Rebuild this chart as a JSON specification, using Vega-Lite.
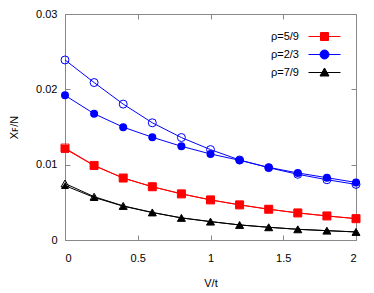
{
  "$schema": "https://vega.github.io/schema/vega-lite/v6.json",
  "autosize": "none",
  "width": 291,
  "height": 226,
  "padding": {"left": 65, "top": 14, "right": 18, "bottom": 53},
  "config": {
    "font": "Liberation Sans",
    "view": {"stroke": "#888888", "strokeWidth": 1},
    "axis": {"labelFont": "Liberation Sans", "titleFont": "Liberation Sans", "labelFontSize": 11, "titleFontSize": 11, "titleFontWeight": "normal", "labelColor": "#000", "titleColor": "#000", "grid": false, "domain": false, "tickColor": "#888888", "tickSize": -5}
  },
  "data": {"values": [
    {"rho": "ρ=5/9", "kind": "filled", "V": 0.0, "x": 0.0121},
    {"rho": "ρ=5/9", "kind": "filled", "V": 0.2, "x": 0.00987},
    {"rho": "ρ=5/9", "kind": "filled", "V": 0.4, "x": 0.00822},
    {"rho": "ρ=5/9", "kind": "filled", "V": 0.6, "x": 0.00707},
    {"rho": "ρ=5/9", "kind": "filled", "V": 0.8, "x": 0.00613},
    {"rho": "ρ=5/9", "kind": "filled", "V": 1.0, "x": 0.00533},
    {"rho": "ρ=5/9", "kind": "filled", "V": 1.2, "x": 0.00467},
    {"rho": "ρ=5/9", "kind": "filled", "V": 1.4, "x": 0.00409},
    {"rho": "ρ=5/9", "kind": "filled", "V": 1.6, "x": 0.0036},
    {"rho": "ρ=5/9", "kind": "filled", "V": 1.8, "x": 0.0032},
    {"rho": "ρ=5/9", "kind": "filled", "V": 2.0, "x": 0.00284},
    {"rho": "ρ=5/9", "kind": "open", "V": 0.0, "x": 0.0122},
    {"rho": "ρ=5/9", "kind": "open", "V": 0.2, "x": 0.0099},
    {"rho": "ρ=5/9", "kind": "open", "V": 0.4, "x": 0.00823},
    {"rho": "ρ=5/9", "kind": "open", "V": 0.6, "x": 0.00707},
    {"rho": "ρ=5/9", "kind": "open", "V": 0.8, "x": 0.00612},
    {"rho": "ρ=5/9", "kind": "open", "V": 1.0, "x": 0.00532},
    {"rho": "ρ=5/9", "kind": "open", "V": 1.2, "x": 0.00466},
    {"rho": "ρ=5/9", "kind": "open", "V": 1.4, "x": 0.00408},
    {"rho": "ρ=5/9", "kind": "open", "V": 1.6, "x": 0.00359},
    {"rho": "ρ=5/9", "kind": "open", "V": 1.8, "x": 0.00319},
    {"rho": "ρ=5/9", "kind": "open", "V": 2.0, "x": 0.00283},
    {"rho": "ρ=2/3", "kind": "filled", "V": 0.0, "x": 0.0192},
    {"rho": "ρ=2/3", "kind": "filled", "V": 0.2, "x": 0.01676},
    {"rho": "ρ=2/3", "kind": "filled", "V": 0.4, "x": 0.01498},
    {"rho": "ρ=2/3", "kind": "filled", "V": 0.6, "x": 0.01364},
    {"rho": "ρ=2/3", "kind": "filled", "V": 0.8, "x": 0.01244},
    {"rho": "ρ=2/3", "kind": "filled", "V": 1.0, "x": 0.01142},
    {"rho": "ρ=2/3", "kind": "filled", "V": 1.2, "x": 0.01058},
    {"rho": "ρ=2/3", "kind": "filled", "V": 1.4, "x": 0.00964},
    {"rho": "ρ=2/3", "kind": "filled", "V": 1.6, "x": 0.0089},
    {"rho": "ρ=2/3", "kind": "filled", "V": 1.8, "x": 0.00827},
    {"rho": "ρ=2/3", "kind": "filled", "V": 2.0, "x": 0.00764},
    {"rho": "ρ=2/3", "kind": "open", "V": 0.0, "x": 0.0239},
    {"rho": "ρ=2/3", "kind": "open", "V": 0.2, "x": 0.0209},
    {"rho": "ρ=2/3", "kind": "open", "V": 0.4, "x": 0.01804},
    {"rho": "ρ=2/3", "kind": "open", "V": 0.6, "x": 0.01556},
    {"rho": "ρ=2/3", "kind": "open", "V": 0.8, "x": 0.0136},
    {"rho": "ρ=2/3", "kind": "open", "V": 1.0, "x": 0.012},
    {"rho": "ρ=2/3", "kind": "open", "V": 1.2, "x": 0.01062},
    {"rho": "ρ=2/3", "kind": "open", "V": 1.4, "x": 0.0096},
    {"rho": "ρ=2/3", "kind": "open", "V": 1.6, "x": 0.00872},
    {"rho": "ρ=2/3", "kind": "open", "V": 1.8, "x": 0.008},
    {"rho": "ρ=2/3", "kind": "open", "V": 2.0, "x": 0.00738},
    {"rho": "ρ=7/9", "kind": "filled", "V": 0.0, "x": 0.00722},
    {"rho": "ρ=7/9", "kind": "filled", "V": 0.2, "x": 0.00565},
    {"rho": "ρ=7/9", "kind": "filled", "V": 0.4, "x": 0.00449},
    {"rho": "ρ=7/9", "kind": "filled", "V": 0.6, "x": 0.00364},
    {"rho": "ρ=7/9", "kind": "filled", "V": 0.8, "x": 0.00293},
    {"rho": "ρ=7/9", "kind": "filled", "V": 1.0, "x": 0.00244},
    {"rho": "ρ=7/9", "kind": "filled", "V": 1.2, "x": 0.002},
    {"rho": "ρ=7/9", "kind": "filled", "V": 1.4, "x": 0.00169},
    {"rho": "ρ=7/9", "kind": "filled", "V": 1.6, "x": 0.00142},
    {"rho": "ρ=7/9", "kind": "filled", "V": 1.8, "x": 0.00124},
    {"rho": "ρ=7/9", "kind": "filled", "V": 2.0, "x": 0.00107},
    {"rho": "ρ=7/9", "kind": "open", "V": 0.0, "x": 0.0075},
    {"rho": "ρ=7/9", "kind": "open", "V": 0.2, "x": 0.00575},
    {"rho": "ρ=7/9", "kind": "open", "V": 0.4, "x": 0.00453},
    {"rho": "ρ=7/9", "kind": "open", "V": 0.6, "x": 0.00366},
    {"rho": "ρ=7/9", "kind": "open", "V": 0.8, "x": 0.00294},
    {"rho": "ρ=7/9", "kind": "open", "V": 1.0, "x": 0.00244},
    {"rho": "ρ=7/9", "kind": "open", "V": 1.2, "x": 0.002},
    {"rho": "ρ=7/9", "kind": "open", "V": 1.4, "x": 0.00169},
    {"rho": "ρ=7/9", "kind": "open", "V": 1.6, "x": 0.00142},
    {"rho": "ρ=7/9", "kind": "open", "V": 1.8, "x": 0.00124},
    {"rho": "ρ=7/9", "kind": "open", "V": 2.0, "x": 0.00107}
  ]},
  "encoding": {
    "x": {"field": "V", "type": "quantitative", "scale": {"domain": [0, 2], "nice": false}},
    "y": {"field": "x", "type": "quantitative", "scale": {"domain": [0, 0.03], "nice": false}}
  },
  "layer": [
    {
      "encoding": {
        "x": {"field": "V", "type": "quantitative", "axis": {"title": "V/t", "values": [0, 0.5, 1, 1.5, 2], "format": "~g", "labelPadding": 17, "titlePadding": 14}},
        "y": {"field": "x", "type": "quantitative", "axis": {"title": "Xꜰ/N", "values": [0, 0.01, 0.02, 0.03], "format": "~g", "labelPadding": 13, "titlePadding": 16}},
        "color": {"field": "rho", "type": "nominal", "scale": {"domain": ["ρ=5/9", "ρ=2/3", "ρ=7/9"], "range": ["#ff0000", "#0000ff", "#000000"]}, "legend": null}
      },
      "layer": [
        {"mark": {"type": "line", "strokeWidth": 1}, "encoding": {"detail": {"field": "kind"}}},
        {"transform": [{"filter": "datum.kind == 'filled'"}],
         "mark": {"type": "point", "filled": true, "opacity": 1, "size": 64},
         "encoding": {"shape": {"field": "rho", "type": "nominal", "scale": {"domain": ["ρ=5/9", "ρ=2/3", "ρ=7/9"], "range": ["square", "circle", "triangle-up"]}, "legend": null}}},
        {"transform": [{"filter": "datum.kind == 'open'"}],
         "mark": {"type": "point", "filled": false, "opacity": 1, "size": 64, "strokeWidth": 1},
         "encoding": {"shape": {"field": "rho", "type": "nominal", "scale": {"domain": ["ρ=5/9", "ρ=2/3", "ρ=7/9"], "range": ["square", "circle", "triangle-up"]}, "legend": null}}}
      ]
    },
    {"mark": {"type": "point", "filled": true, "opacity": 0, "strokeWidth": 1},
     "encoding": {
       "x": {"field": "V", "type": "quantitative", "axis": {"orient": "top", "labels": false, "title": null, "values": [0, 0.5, 1, 1.5, 2]}},
       "y": {"field": "x", "type": "quantitative", "axis": {"orient": "right", "labels": false, "title": null, "values": [0, 0.01, 0.02, 0.03]}},
       "fill": {"field": "rho", "type": "nominal", "scale": {"domain": ["ρ=5/9", "ρ=2/3", "ρ=7/9"], "range": ["#ff0000", "#0000ff", "#000000"]},
         "legend": {"title": null, "orient": "none", "legendX": 254, "legendY": 17, "labelAlign": "right", "labelOffset": -31, "labelFontSize": 11, "labelFont": "Liberation Sans", "labelColor": "#000", "symbolSize": 100, "symbolOpacity": 1, "symbolStrokeWidth": 1, "rowPadding": 5, "padding": 0}},
       "stroke": {"field": "rho", "type": "nominal", "scale": {"domain": ["ρ=5/9", "ρ=2/3", "ρ=7/9"], "range": ["#ff0000", "#0000ff", "#000000"]},
         "legend": {"title": null, "orient": "none", "legendX": 254, "legendY": 17, "labelAlign": "right", "labelOffset": -31, "labelFontSize": 11, "labelFont": "Liberation Sans", "labelColor": "#000", "symbolSize": 100, "symbolOpacity": 1, "symbolStrokeWidth": 1, "rowPadding": 5, "padding": 0}},
       "shape": {"field": "rho", "type": "nominal", "scale": {"domain": ["ρ=5/9", "ρ=2/3", "ρ=7/9"], "range": ["M-3.2,0H3.2M-0.8,-0.8H0.8V0.8H-0.8Z", "M-3.2,0H3.2M0.9,0A0.9,0.9 0 1 1 -0.9,0A0.9,0.9 0 1 1 0.9,0Z", "M-3.2,0H3.2M0,-0.9L0.9,0.7L-0.9,0.7Z"]},
         "legend": {"title": null, "orient": "none", "legendX": 254, "legendY": 17, "labelAlign": "right", "labelOffset": -31, "labelFontSize": 11, "labelFont": "Liberation Sans", "labelColor": "#000", "symbolSize": 100, "symbolOpacity": 1, "symbolStrokeWidth": 1, "rowPadding": 5, "padding": 0}}
     }}
  ],
  "resolve": {"axis": {"x": "independent", "y": "independent"}, "scale": {"shape": "independent", "fill": "independent", "stroke": "independent"}}
}
